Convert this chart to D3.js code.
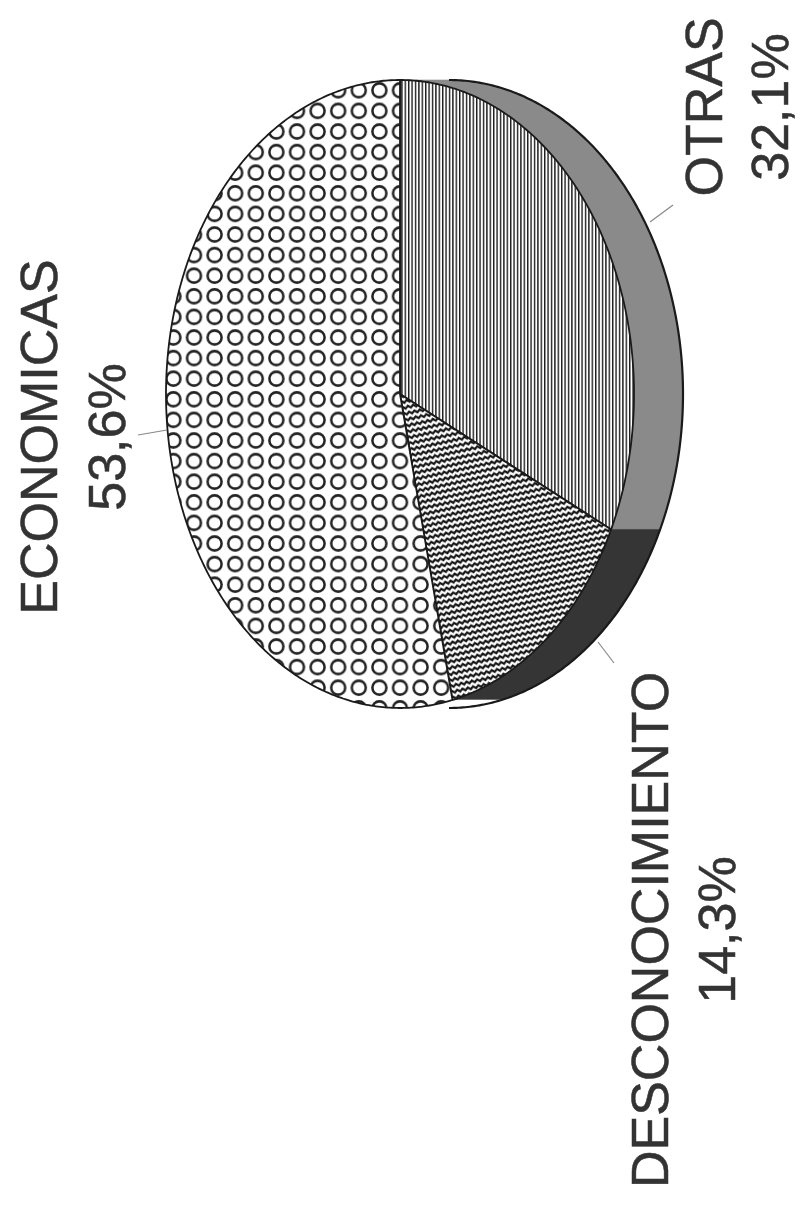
<!DOCTYPE html>
<html>
<head>
<meta charset="utf-8">
<script src="https://cdn.jsdelivr.net/npm/d3@7"></script>
<style>
  html, body { margin: 0; padding: 0; background: #fff; }
  svg { display: block; }
  text { font-family: "Liberation Sans", Arial, sans-serif; fill: #333; stroke: #333; stroke-width: 0.5; }
</style>
</head>
<body>
<svg id="chart" width="800" height="1228"></svg>
<script>
// ---- data ----
const categories = ["OTRAS", "DESCONOCIMIENTO", "ECONOMICAS"];
const values = [32.1, 14.3, 53.6];

// ---- layout ----
const W = 800, H = 1228;
const cx = 400, cy = 394, rx = 234, ry = 314, depth = 49;
const fontSize = 52;

const svg = d3.select("#chart");
svg.append("rect").attr("width", W).attr("height", H).attr("fill", "#fff");

// ---- patterns ----
const defs = svg.append("defs");
const pV = defs.append("pattern").attr("id", "pat-otras")
  .attr("patternUnits", "userSpaceOnUse").attr("width", 3.4).attr("height", 10);
pV.append("rect").attr("width", 3.4).attr("height", 10).attr("fill", "#fff");
pV.append("rect").attr("x", 0).attr("width", 1.4).attr("height", 10).attr("fill", "#1a1a1a");

const pZ = defs.append("pattern").attr("id", "pat-desc")
  .attr("patternUnits", "userSpaceOnUse").attr("width", 5.4).attr("height", 6)
  .attr("patternTransform", "rotate(-12)");
pZ.append("rect").attr("width", 5.4).attr("height", 6).attr("fill", "#fff");
pZ.append("path").attr("d", "M-1.35,4.1 L1.35,1.7 L4.05,4.1 L6.75,1.7")
  .attr("fill", "none").attr("stroke", "#111").attr("stroke-width", 2.2);

const pC = defs.append("pattern").attr("id", "pat-econ")
  .attr("patternUnits", "userSpaceOnUse").attr("width", 20.6).attr("height", 20.6)
  .attr("x", 400 - 10.3).attr("y", 80);
pC.append("rect").attr("width", 20.6).attr("height", 20.6).attr("fill", "#fff");
pC.append("circle").attr("cx", 10.3).attr("cy", 10.3).attr("r", 7)
  .attr("fill", "none").attr("stroke", "#222").attr("stroke-width", 2.5);

const topFill = ["url(#pat-otras)", "url(#pat-desc)", "url(#pat-econ)"];
const sideFill = ["#8a8a8a", "#353535", "#ffffff"];

// ---- pie geometry ----
const pie = d3.pie().sort(null).startAngle(0).endAngle(2 * Math.PI);
const arcs = pie(values);

const pt = (a, dx = 0) => [cx + rx * Math.sin(a) + dx, cy - ry * Math.cos(a)];
const sample = (a0, a1, dx = 0) => {
  const n = Math.max(2, Math.ceil(Math.abs(a1 - a0) / 0.01));
  return d3.range(n + 1).map(i => pt(a0 + (a1 - a0) * i / n, dx));
};
const line = d3.line();

// side faces (visible where sin > 0)
const g = svg.append("g");
arcs.forEach((d, i) => {
  const lo = Math.max(d.startAngle, 0), hi = Math.min(d.endAngle, Math.PI);
  if (hi <= lo) return;
  const pts = sample(lo, hi).concat(sample(hi, lo, depth));
  g.append("path").attr("d", line(pts) + "Z")
    .attr("fill", sideFill[i]).attr("stroke", sideFill[i]).attr("stroke-width", 0.6);
});
// outer silhouette of side
g.append("path").attr("d", line(sample(0, Math.PI, depth)))
  .attr("fill", "none").attr("stroke", "#1a1a1a").attr("stroke-width", 2.2);

// top faces
arcs.forEach((d, i) => {
  const pts = [[cx, cy]].concat(sample(d.startAngle, d.endAngle));
  g.append("path").attr("d", line(pts) + "Z")
    .attr("fill", topFill[i]).attr("stroke", "#1a1a1a")
    .attr("stroke-width", 1.8).attr("stroke-linejoin", "round");
});

// ---- labels ----
const fmt = v => d3.format(".1f")(v).replace(".", ",") + "%";
const labelPos = [
  { x1: 722, x2: 788, y: 107, lead: [[650, 222], [673, 205]] },
  { x1: 668, x2: 735, y: 930, lead: [[598, 642], [614, 663]] },
  { x1: 57,  x2: 125, y: 437, lead: [[138, 435], [167, 430]] }
];
arcs.forEach((d, i) => {
  const p = labelPos[i];
  svg.append("line")
    .attr("x1", p.lead[0][0]).attr("y1", p.lead[0][1])
    .attr("x2", p.lead[1][0]).attr("y2", p.lead[1][1])
    .attr("stroke", "#888").attr("stroke-width", 1.2);
  svg.append("text").attr("transform", `translate(${p.x1},${p.y}) rotate(-90)`)
    .attr("text-anchor", "middle").attr("font-size", fontSize).text(categories[i]);
  svg.append("text").attr("transform", `translate(${p.x2},${p.y}) rotate(-90)`)
    .attr("text-anchor", "middle").attr("font-size", fontSize).text(fmt(values[i]));
});
</script>
</body>
</html>
